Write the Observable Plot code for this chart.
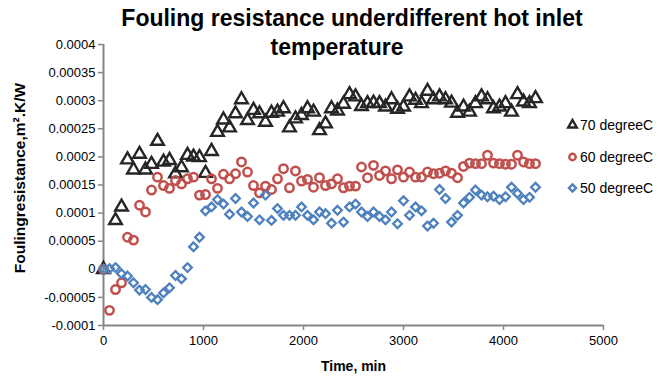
<!DOCTYPE html>
<html><head><meta charset="utf-8">
<script src="https://cdn.jsdelivr.net/npm/d3@7"></script>
<script src="https://cdn.jsdelivr.net/npm/@observablehq/plot@0.6"></script>
<style>
html,body{margin:0;padding:0;background:#fff;}
#wrap{position:relative;width:670px;height:380px;font-family:"Liberation Sans",Arial,sans-serif;color:#000;}
#chart{position:absolute;left:0;top:0;}
.title{position:absolute;font-weight:bold;font-size:23px;line-height:23px;white-space:nowrap;transform:translateX(-50%);}
.leg{position:absolute;font-size:14px;line-height:16px;white-space:nowrap;display:flex;align-items:center;}
.leg svg{margin-right:1px;}
</style>
</head><body>
<div id="wrap">
  <div id="chart"></div>
  <div class="title" style="left:352px;top:7px;">Fouling resistance underdifferent hot inlet</div>
  <div class="title" style="left:337px;top:36px;">temperature</div>
  <div id="legend"></div>
</div>
<script>
// Time (min)
const times = [0,60,120,180,240,300,360,420,480,540,600,660,720,780,840,900,960,1020,1080,1140,1200,1260,1320,1380,1440,1500,1560,1620,1680,1740,1800,1860,1920,1980,2040,2100,2160,2220,2280,2340,2400,2460,2520,2580,2640,2700,2760,2820,2880,2940,3000,3060,3120,3180,3240,3300,3360,3420,3480,3540,3600,3660,3720,3780,3840,3900,3960,4020,4080,4140,4200,4260,4320];
// Fouling resistance (m².K/W)
const s70 = [0e-4,null,0.87e-4,1.11e-4,1.95e-4,1.77e-4,2.05e-4,1.77e-4,1.87e-4,2.28e-4,1.91e-4,1.94e-4,1.70e-4,1.81e-4,2.03e-4,2.00e-4,1.99e-4,1.71e-4,2.10e-4,2.44e-4,2.66e-4,2.52e-4,2.77e-4,3.02e-4,2.65e-4,2.83e-4,2.77e-4,2.62e-4,2.78e-4,2.80e-4,2.86e-4,2.52e-4,2.68e-4,2.74e-4,2.86e-4,2.80e-4,2.47e-4,2.59e-4,2.86e-4,2.82e-4,2.94e-4,3.11e-4,3.07e-4,2.90e-4,2.95e-4,2.96e-4,2.95e-4,2.89e-4,3.02e-4,2.85e-4,2.89e-4,3.07e-4,3.01e-4,2.95e-4,3.17e-4,3.02e-4,3.07e-4,3.02e-4,2.96e-4,2.78e-4,2.89e-4,2.80e-4,2.95e-4,3.07e-4,3.02e-4,2.86e-4,2.89e-4,2.95e-4,2.80e-4,3.11e-4,2.98e-4,2.95e-4,3.04e-4];
const s60 = [0e-4,-0.73e-4,-0.36e-4,-0.24e-4,0.57e-4,0.52e-4,1.14e-4,1.02e-4,1.41e-4,1.64e-4,1.49e-4,1.44e-4,1.58e-4,1.52e-4,1.61e-4,1.64e-4,1.32e-4,1.33e-4,1.61e-4,1.44e-4,1.69e-4,1.61e-4,1.70e-4,1.91e-4,1.73e-4,1.49e-4,1.36e-4,1.48e-4,1.42e-4,1.61e-4,1.79e-4,1.45e-4,1.75e-4,1.57e-4,1.60e-4,1.46e-4,1.63e-4,1.49e-4,1.52e-4,1.61e-4,1.45e-4,1.48e-4,1.48e-4,1.82e-4,1.63e-4,1.85e-4,1.67e-4,1.75e-4,1.61e-4,1.77e-4,1.64e-4,1.73e-4,1.64e-4,1.64e-4,1.73e-4,1.70e-4,1.71e-4,1.75e-4,1.71e-4,1.63e-4,1.83e-4,1.89e-4,1.88e-4,1.88e-4,2.03e-4,1.89e-4,1.88e-4,1.87e-4,1.87e-4,2.03e-4,1.91e-4,1.88e-4,1.88e-4];
const s50 = [0e-4,0.01e-4,0.03e-4,-0.08e-4,-0.12e-4,-0.24e-4,-0.37e-4,-0.36e-4,-0.50e-4,-0.54e-4,-0.42e-4,-0.33e-4,-0.11e-4,-0.17e-4,0.03e-4,0.40e-4,0.57e-4,1.04e-4,1.11e-4,1.24e-4,1.16e-4,0.98e-4,1.26e-4,1.02e-4,0.94e-4,1.18e-4,0.88e-4,1.32e-4,0.87e-4,1.08e-4,0.96e-4,0.96e-4,0.96e-4,1.11e-4,0.96e-4,0.88e-4,1.02e-4,0.99e-4,0.82e-4,1.05e-4,0.84e-4,1.11e-4,1.16e-4,1.02e-4,0.94e-4,1.02e-4,0.94e-4,0.88e-4,1.02e-4,0.81e-4,1.22e-4,0.96e-4,1.11e-4,1.04e-4,0.77e-4,0.82e-4,1.42e-4,1.26e-4,0.84e-4,0.96e-4,1.18e-4,1.28e-4,1.41e-4,1.32e-4,1.29e-4,1.30e-4,1.24e-4,1.29e-4,1.46e-4,1.35e-4,1.24e-4,1.28e-4,1.46e-4];
const seriesNames = ["70 degreeC","60 degreeC","50 degreeC"];
const seriesColors = ["#262626","#c0504d","#4f81bd"];
const seriesSymbols = ["triangle","circle","diamond2"];
const xTicks = [0,1000,2000,3000,4000,5000];
const xTickLabels = ["0","1000","2000","3000","4000","5000"];
const yTicks = [-0.0001,-0.00005,0,0.00005,0.0001,0.00015,0.0002,0.00025,0.0003,0.00035,0.0004];
const yTickLabels = ["-0.0001","-0.00005","0","0.00005","0.0001","0.00015","0.0002","0.00025","0.0003","0.00035","0.0004"];
const xLabel = "Time, min";
const yLabel = "Foulingresistance,m\u00B2.K/W";

const seriesValues = [s70, s60, s50];
const tables = seriesValues.map(vals => times.map((t,i)=>({t, v: vals[i]})).filter(d => d.v !== null));

const fmtX = d => xTickLabels[xTicks.indexOf(d)];
const fmtY = d => { const i = yTicks.findIndex(v => Math.abs(v - d) < 1e-9); return i >= 0 ? yTickLabels[i] : ""; };

const axisGray = "#868686";
const chart = Plot.plot({
  width: 670, height: 380,
  marginLeft: 103, marginRight: 67, marginTop: 44, marginBottom: 55,
  style: {fontFamily: "'Liberation Sans', Arial, sans-serif", fontSize: "13px", color: "#000", background: "transparent"},
  x: {domain: [0, 5000]},
  y: {domain: [-0.0001, 0.0004]},
  marks: [
    Plot.axisX({ticks: xTicks, tickFormat: fmtX, tickSize: 5, tickPadding: 5, stroke: axisGray, fill: "#000", strokeWidth: 1.5, label: null, fontSize: 13}),
    Plot.axisY({ticks: yTicks, tickFormat: fmtY, tickSize: 5, tickPadding: 3, stroke: axisGray, fill: "#000", strokeWidth: 1.5, label: null, fontSize: 13}),
    Plot.ruleX([0], {stroke: axisGray, strokeWidth: 2}),
    Plot.ruleY([-0.0001], {stroke: axisGray, strokeWidth: 2}),
    Plot.dot(tables[0], {x: "t", y: "v", symbol: seriesSymbols[0], r: 4.7, stroke: seriesColors[0], strokeWidth: 2.4, fill: "none"}),
    Plot.dot(tables[1], {x: "t", y: "v", symbol: seriesSymbols[1], r: 4.2, stroke: seriesColors[1], strokeWidth: 2.5, fill: "none"}),
    Plot.dot(tables[2], {x: "t", y: "v", symbol: seriesSymbols[2], r: 3.9, stroke: seriesColors[2], strokeWidth: 2.3, fill: "none"}),
    Plot.text([xLabel], {text: d => d, frameAnchor: "bottom", textAnchor: "middle", lineAnchor: "middle", dy: 41, fontWeight: "bold", fontSize: 14}),
    Plot.text([yLabel], {text: d => d, frameAnchor: "left", textAnchor: "middle", lineAnchor: "middle", rotate: -90, dx: -83, dy: -7, fontWeight: "bold", fontSize: 15.5})
  ]
});
document.getElementById("chart").appendChild(chart);

// Legend
const legend = document.getElementById("legend");
const legTop = [125, 157, 188];
const d3Sym = {triangle: d3.symbolTriangle, circle: d3.symbolCircle, diamond2: d3.symbolDiamond2};
seriesNames.forEach((name, i) => {
  const div = document.createElement("div");
  div.className = "leg";
  div.style.left = "566px";
  div.style.top = (legTop[i] - 8) + "px";
  const svg = d3.create("svg").attr("width", 13).attr("height", 16);
  svg.append("path")
    .attr("transform", "translate(6.5,8)")
    .attr("d", d3.symbol(d3Sym[seriesSymbols[i]], Math.PI * 3.2 * 3.2)())
    .attr("fill", "none").attr("stroke", seriesColors[i]).attr("stroke-width", 2.4);
  div.appendChild(svg.node());
  const span = document.createElement("span");
  span.textContent = name;
  div.appendChild(span);
  legend.appendChild(div);
});
</script>
</body></html>
